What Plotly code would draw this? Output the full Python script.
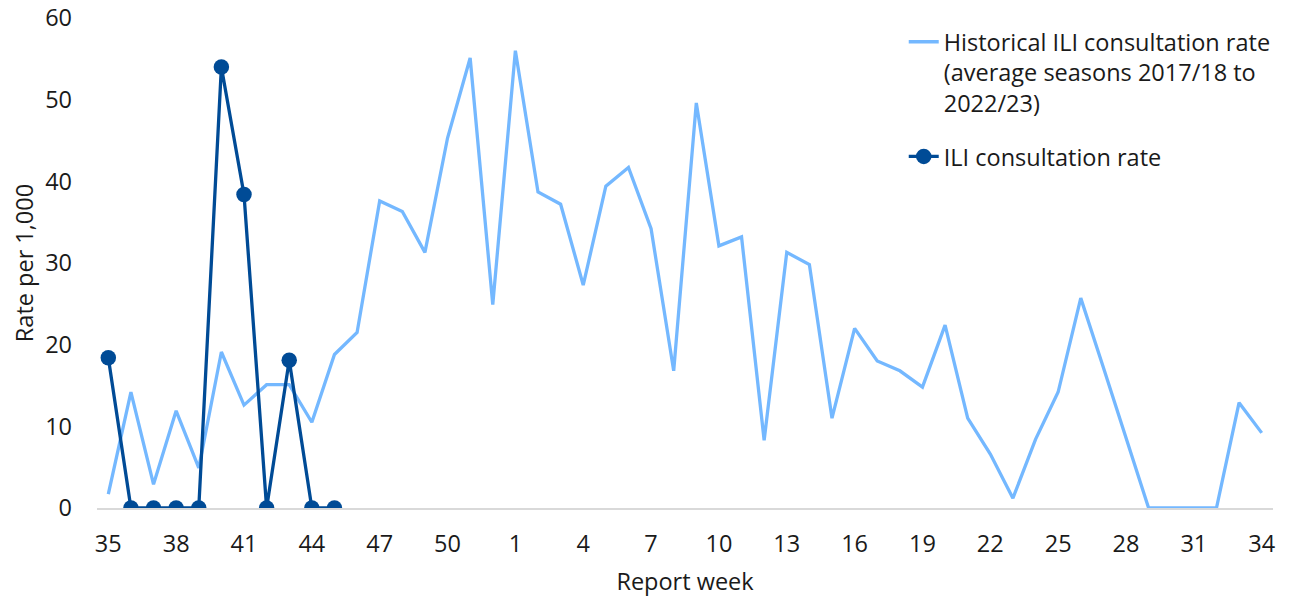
import plotly.graph_objects as go

weeks = [35, 36, 37, 38, 39, 40, 41, 42, 43, 44, 45, 46, 47, 48, 49, 50, 51, 52,
         1, 2, 3, 4, 5, 6, 7, 8, 9, 10, 11, 12, 13, 14, 15, 16, 17, 18, 19, 20,
         21, 22, 23, 24, 25, 26, 27, 28, 29, 30, 31, 32, 33, 34]

historical = [1.7, 14.2, 2.9, 11.9, 4.9, 19.1, 12.6, 15.1, 15.1, 10.5, 18.8, 21.5,
              37.6, 36.3, 31.3, 45.3, 55.1, 24.9, 56.0, 38.7, 37.2, 27.3, 39.4, 41.7,
              34.2, 16.8, 49.6, 32.1, 33.2, 8.3, 31.3, 29.8, 11.0, 22.0, 18.0, 16.8,
              14.8, 22.4, 11.0, 6.6, 1.2, 8.4, 14.2, 25.7, 17.2, 8.6, 0, 0, 0, 0,
              12.9, 9.2]

current = [18.4, 0, 0, 0, 0, 54.0, 38.4, 0, 18.1, 0, 0]

tick_labels = [35, 38, 41, 44, 47, 50, 1, 4, 7, 10, 13, 16, 19, 22, 25, 28, 31, 34]

FONT = "Open Sans"
FS = 23.5
pos = list(range(len(weeks)))
tick_pos = [weeks.index(t) if t >= 35 else 18 + weeks[18:].index(t) for t in tick_labels]

fig = go.Figure()
fig.add_trace(go.Scatter(
    x=pos, y=historical, mode="lines",
    name="Historical ILI consultation rate<br>(average seasons 2017/18 to<br>2022/23)",
    legendgroup="hist",
    line=dict(color="#74B8FF", width=3.3),
))
fig.add_trace(go.Scatter(
    x=pos[:len(current)], y=current, mode="lines+markers",
    name="ILI consultation rate",
    legendgroup="cur",
    line=dict(color="#004B96", width=3.3),
    marker=dict(color="#004B96", size=15.5),
))

fig.update_layout(
    width=1297, height=602,
    paper_bgcolor="white", plot_bgcolor="white",
    margin=dict(l=89, r=32, t=10, b=102, autoexpand=False),
    font=dict(family=FONT, size=FS, color="#1a1a1a"),
    showlegend=True,
    legend=dict(
        x=0.686, y=0.996, xanchor="left", yanchor="top",
        font=dict(family=FONT, size=FS, color="#1a1a1a"),
        valign="top", tracegroupgap=20, bgcolor="rgba(0,0,0,0)",
    ),
    xaxis=dict(
        range=[-0.5, len(weeks) - 0.5], automargin=False,
        tickmode="array", tickvals=tick_pos, ticktext=[str(t) for t in tick_labels],
        showgrid=False, zeroline=False, showline=True, linecolor="#d9d9d9", linewidth=2,
        ticks="", tickfont=dict(size=FS), ticklabelstandoff=14,
        title=dict(text="Report week", font=dict(size=FS), standoff=15),
    ),
    yaxis=dict(
        range=[0, 60], tickmode="linear", tick0=0, dtick=10, automargin=False,
        showgrid=False, zeroline=False, showline=False,
        ticks="", ticklabelstandoff=24, tickfont=dict(size=FS),
        ticklabeloverflow="allow",
        title=dict(text="Rate per 1,000", font=dict(size=FS), standoff=10),
    ),
)

fig.write_html("out.html")
